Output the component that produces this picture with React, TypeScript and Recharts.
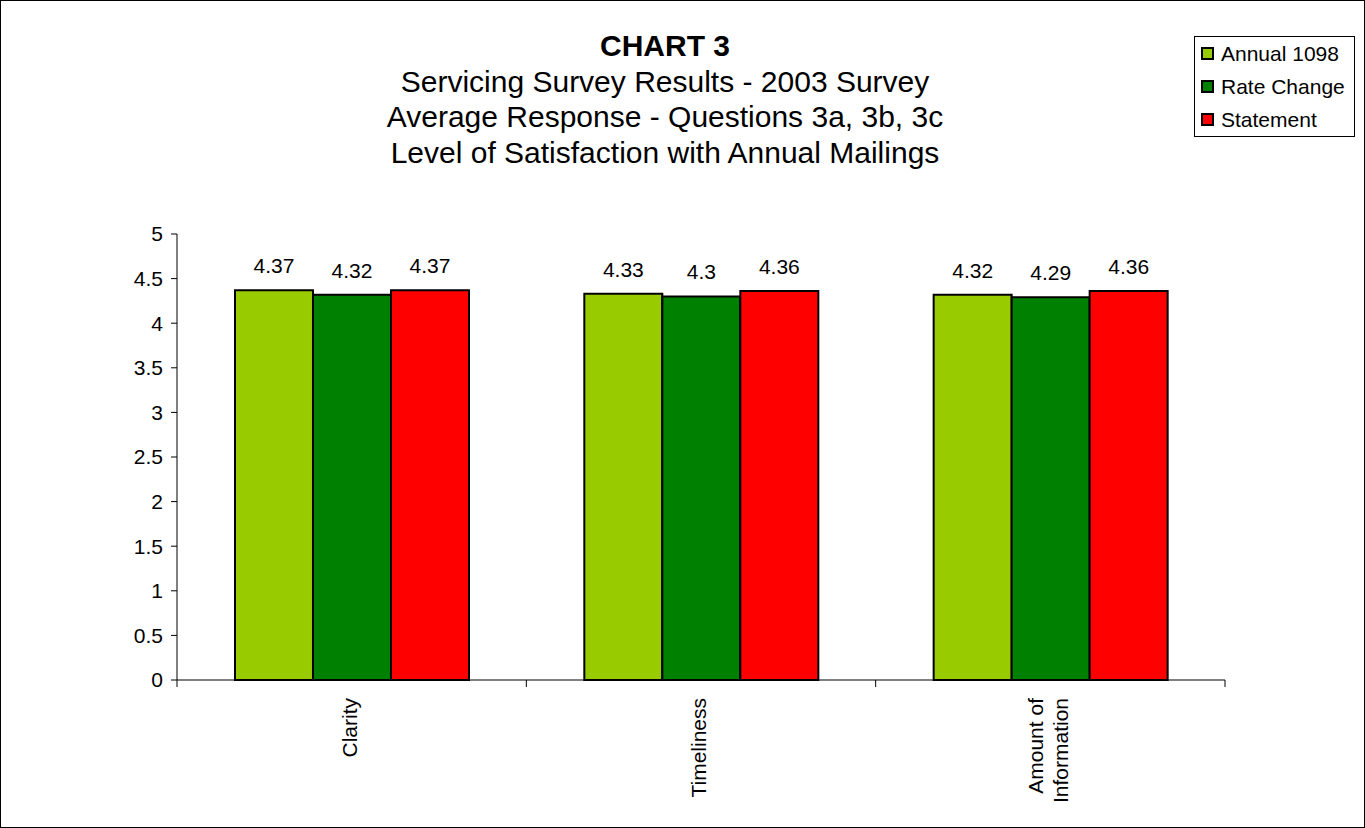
import React from "react";
import {
  BarChart,
  Bar,
  XAxis,
  YAxis,
  Legend,
  LabelList,
} from "recharts";

// survey questions (x categories)
const categories = ["Clarity", "Timeliness", "Amount of Information"];

// average response per mailing type
const annual1098 = [4.37, 4.33, 4.32];
const rateChange = [4.32, 4.3, 4.29];
const statement = [4.37, 4.36, 4.36];

const yTicks = [0, 0.5, 1, 1.5, 2, 2.5, 3, 3.5, 4, 4.5, 5];

const titleLines = [
  "Servicing Survey Results - 2003 Survey",
  "Average Response - Questions 3a, 3b, 3c",
  "Level of Satisfaction with Annual Mailings",
];

const FONT = '"Liberation Sans", Arial, Helvetica, sans-serif';

const chartData = categories.map((name, i) => ({
  name,
  annual: annual1098[i],
  rate: rateChange[i],
  statement: statement[i],
}));

// break long category names onto a second line
function wrapLabel(text: string, maxChars = 11): string[] {
  const words = text.split(" ");
  const lines: string[] = [];
  let cur = "";
  for (const w of words) {
    const next = cur ? cur + " " + w : w;
    if (next.length > maxChars && cur) {
      lines.push(cur);
      cur = w;
    } else {
      cur = next;
    }
  }
  if (cur) lines.push(cur);
  return lines;
}

// vertical category label plus the tick marks on the band edges
function CategoryTick(props: any) {
  const { x, y, payload, index, width } = props;
  const half = payload?.offset ?? width / (categories.length * 2);
  const lines = wrapLabel(String(payload.value));
  const n = lines.length;
  const ty = y + 18;
  return (
    <g>
      <line x1={x - half} x2={x - half} y1={y} y2={y + 7} stroke="#000" />
      {index === categories.length - 1 && (
        <line x1={x + half} x2={x + half} y1={y} y2={y + 7} stroke="#000" />
      )}
      {lines.map((line, i) => (
        <text
          key={i}
          x={x}
          y={ty + 5 + (i - (n - 1) / 2) * 25}
          textAnchor="end"
          transform={`rotate(-90, ${x}, ${ty})`}
          fontSize={21}
          fontFamily={FONT}
          fill="#000"
        >
          {line}
        </text>
      ))}
    </g>
  );
}

function LegendBox({ payload }: any) {
  return (
    <div
      style={{
        border: "1px solid #000",
        background: "#fff",
        fontFamily: FONT,
        fontSize: 21,
        color: "#000",
      }}
    >
      {(payload || []).map((entry: any) => (
        <div
          key={entry.value}
          style={{ display: "flex", alignItems: "center", height: 33 }}
        >
          <span
            style={{
              width: 13,
              height: 13,
              marginLeft: 6,
              marginRight: 7,
              background: entry.color,
              border: "2px solid #000",
              boxSizing: "border-box",
            }}
          />
          <span style={{ whiteSpace: "nowrap" }}>{entry.value}</span>
        </div>
      ))}
    </div>
  );
}

export default function App() {
  return (
    <div
      style={{
        position: "absolute",
        left: 0,
        top: 0,
        width: 1365,
        height: 828,
        background: "#fff",
        fontFamily: FONT,
      }}
    >
      <div
        style={{
          position: "absolute",
          left: 0,
          top: 28,
          width: 1330,
          textAlign: "center",
          fontSize: 30,
          lineHeight: "35.5px",
          color: "#000",
        }}
      >
        <div style={{ fontWeight: "bold" }}>CHART 3</div>
        {titleLines.map((t) => (
          <div key={t}>{t}</div>
        ))}
      </div>

      <BarChart
        width={1365}
        height={828}
        data={chartData}
        margin={{ top: 234, right: 140, left: 0, bottom: 0 }}
        barCategoryGap="16.6%"
        barGap={0}
        style={{ fontFamily: FONT }}
      >
        <YAxis
          width={177}
          domain={[0, 5]}
          ticks={yTicks}
          interval={0}
          tickSize={6}
          tickMargin={8}
          axisLine={{ stroke: "#000" }}
          tickLine={{ stroke: "#000" }}
          tick={{ fill: "#000", fontSize: 21, fontFamily: FONT }}
        />
        <XAxis
          dataKey="name"
          height={148}
          interval={0}
          tickSize={0}
          tickMargin={0}
          tickLine={false}
          axisLine={{ stroke: "#000" }}
          tick={<CategoryTick />}
        />
        <Legend
          layout="vertical"
          align="center"
          verticalAlign="middle"
          wrapperStyle={{
            position: "absolute",
            left: 1194,
            top: 36,
            width: 161,
            height: "auto",
          }}
          content={<LegendBox />}
        />
        <Bar
          dataKey="annual"
          name="Annual 1098"
          fill="#99CC00"
          stroke="#000"
          strokeWidth={2}
          isAnimationActive={false}
        >
          <LabelList
            dataKey="annual"
            position="top"
            offset={17}
            fill="#000"
            fontSize={21}
            fontFamily={FONT}
          />
        </Bar>
        <Bar
          dataKey="rate"
          name="Rate Change"
          fill="#008000"
          stroke="#000"
          strokeWidth={2}
          isAnimationActive={false}
        >
          <LabelList
            dataKey="rate"
            position="top"
            offset={17}
            fill="#000"
            fontSize={21}
            fontFamily={FONT}
          />
        </Bar>
        <Bar
          dataKey="statement"
          name="Statement"
          fill="#FF0000"
          stroke="#000"
          strokeWidth={2}
          isAnimationActive={false}
        >
          <LabelList
            dataKey="statement"
            position="top"
            offset={17}
            fill="#000"
            fontSize={21}
            fontFamily={FONT}
          />
        </Bar>
      </BarChart>

      <div
        style={{
          position: "absolute",
          left: 0,
          top: 0,
          width: 1365,
          height: 828,
          boxSizing: "border-box",
          border: "1px solid #000",
          pointerEvents: "none",
        }}
      />
    </div>
  );
}
